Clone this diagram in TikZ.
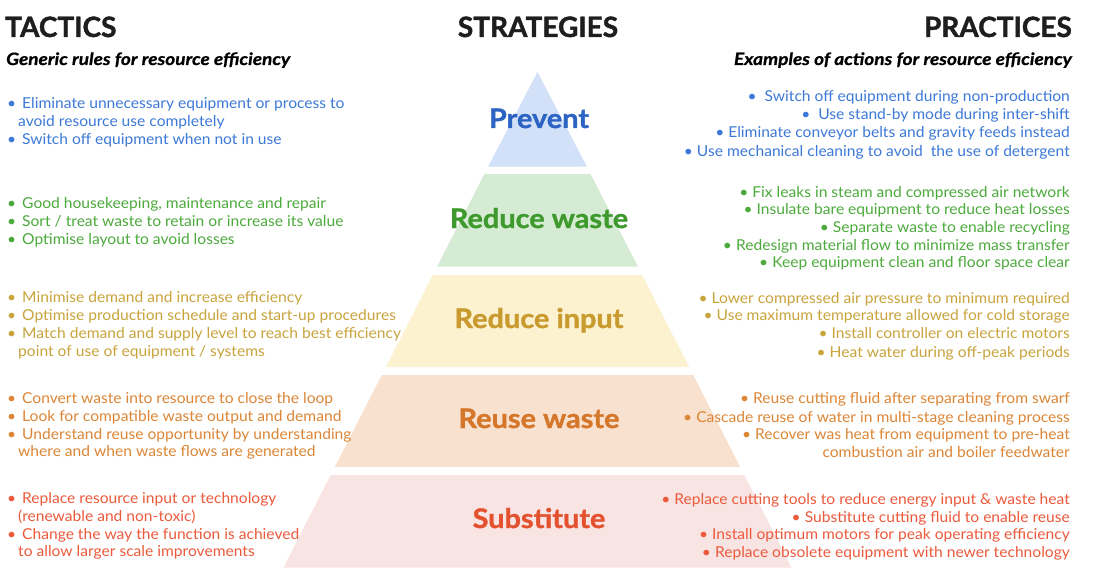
\documentclass[tikz,border=0pt]{standalone}
\usepackage{fontspec}
\setmainfont{Lato}
\newfontfamily\bodyfont{Lato}[FakeStretch=1.04]
\newfontfamily\labelfont{Lato}[FakeStretch=1.07,BoldFeatures={FakeBold=1.2}]
\newfontfamily\subfont{Lato}[FakeStretch=1.12,BoldItalicFeatures={FakeBold=0.8}]
\newfontfamily\headfont{Lato}[BoldFeatures={FakeBold=1.4}]
\definecolor{cBlueF}{HTML}{D2E1F8}
\definecolor{cGreenF}{HTML}{D6EBD3}
\definecolor{cGoldF}{HTML}{FCF2D0}
\definecolor{cOrangeF}{HTML}{F9E1CF}
\definecolor{cRedF}{HTML}{F8E4E3}
\definecolor{cBlueT}{HTML}{3D79D8}
\definecolor{cGreenT}{HTML}{4CAA3C}
\definecolor{cGoldT}{HTML}{C9A43C}
\definecolor{cOrangeT}{HTML}{DC8636}
\definecolor{cRedT}{HTML}{EC5A3C}
\definecolor{cBlueL}{HTML}{2C64C4}
\definecolor{cGreenL}{HTML}{3F9A2E}
\definecolor{cGoldL}{HTML}{C99A2E}
\definecolor{cOrangeL}{HTML}{D5772B}
\definecolor{cRedL}{HTML}{E4512F}
\definecolor{cHead}{HTML}{1E1E1E}
\begin{document}
\begin{tikzpicture}[x=1pt,y=-1pt,
  lt/.style={anchor=base west, inner sep=0pt, font=\bodyfont\fontsize{15}{18}\selectfont},
  rt/.style={anchor=base east, inner sep=0pt, font=\bodyfont\fontsize{15}{18}\selectfont},
  head/.style={inner sep=0pt, text=cHead, font=\headfont\fontsize{28}{32}\selectfont\bfseries},
  subhead/.style={inner sep=0pt, text=black, font=\subfont\fontsize{17}{20}\selectfont\bfseries\itshape},
  lbl/.style={anchor=base, inner sep=0pt, font=\labelfont\fontsize{27}{30}\selectfont\bfseries},
  bandshape/.style={draw=none}]
\fill[white] (0,0) rectangle (1096,586);
\useasboundingbox (0,0) rectangle (1096,586);
% pyramid bands
\fill[cBlueF,bandshape] (537.5,72) -- (586.8,166.5) -- (488.2,166.5) -- cycle;
\fill[cGreenF,bandshape] (484.4,174) -- (590.6,174) -- (637.8,266.5) -- (437.2,266.5) -- cycle;
\fill[cGoldF,bandshape] (432.8,275) -- (642.2,275) -- (689.2,367) -- (385.9,367) -- cycle;
\fill[cOrangeF,bandshape] (381.8,375) -- (693.2,375) -- (740.2,467) -- (334.8,467) -- cycle;
\fill[cRedF,bandshape] (330.7,475) -- (744.3,475) -- (791.5,567.5) -- (283.5,567.5) -- cycle;
% strategy labels
\node[lbl,text=cBlueL] (sPrev) at (539,128) {Prevent};
\node[lbl,text=cGreenL] (sRedW) at (539,228) {Reduce waste};
\node[lbl,text=cGoldL] (sRedI) at (539,328) {Reduce input};
\node[lbl,text=cOrangeL] (sReuse) at (539,428) {Reuse waste};
\node[lbl,text=cRedL] (sSubst) at (539,528) {Substitute};
% headers
\node[head,anchor=base west] (hTac) at (5,37) {TACTICS};
\node[head,anchor=base] (hStr) at (538,37) {STRATEGIES};
\node[head,anchor=base east] (hPra) at (1072,37) {PRACTICES};
\node[subhead,anchor=base west] (sTac) at (6,65) {Generic rules for resource efficiency};
\node[subhead,anchor=base east] (sPra) at (1072,65) {Examples of actions for resource efficiency};
% left: prevent
\node[lt,text=cBlueT] (lb1) at (7,108) {\makebox[15pt][l]{•}Eliminate unnecessary equipment or process to};
\node[lt,text=cBlueT] (lb2) at (18,126) {avoid resource use completely};
\node[lt,text=cBlueT] (lb3) at (7,144) {\makebox[15pt][l]{•}Switch off equipment when not in use};
% left: reduce waste
\node[lt,text=cGreenT] (lg1) at (7,208) {\makebox[15pt][l]{•}Good housekeeping, maintenance and repair};
\node[lt,text=cGreenT] (lg2) at (7,226) {\makebox[15pt][l]{•}Sort / treat waste to retain or increase its value};
\node[lt,text=cGreenT] (lg3) at (7,244) {\makebox[15pt][l]{•}Optimise layout to avoid losses};
% left: reduce input
\node[lt,text=cGoldT] (ly1) at (7,302) {\makebox[15pt][l]{•}Minimise demand and increase efficiency};
\node[lt,text=cGoldT] (ly2) at (7,320) {\makebox[15pt][l]{•}Optimise production schedule and start-up procedures};
\node[lt,text=cGoldT] (ly3) at (7,338) {\makebox[15pt][l]{•}Match demand and supply level to reach best efficiency};
\node[lt,text=cGoldT] (ly4) at (18,356) {point of use of equipment / systems};
% left: reuse waste
\node[lt,text=cOrangeT] (lo1) at (7,403) {\makebox[15pt][l]{•}Convert waste into resource to close the loop};
\node[lt,text=cOrangeT] (lo2) at (7,421) {\makebox[15pt][l]{•}Look for compatible waste output and demand};
\node[lt,text=cOrangeT] (lo3) at (7,439) {\makebox[15pt][l]{•}Understand reuse opportunity by understanding};
\node[lt,text=cOrangeT] (lo4) at (18,456) {where and when waste flows are generated};
% left: substitute
\node[lt,text=cRedT] (lr1) at (7,503) {\makebox[15pt][l]{•}Replace resource input or technology};
\node[lt,text=cRedT] (lr2) at (18,521) {(renewable and non-toxic)};
\node[lt,text=cRedT] (lr3) at (7,539) {\makebox[15pt][l]{•}Change the way the function is achieved};
\node[lt,text=cRedT] (lr4) at (18,556) {to allow larger scale improvements};
% right: prevent
\node[rt,text=cBlueT] (rb1) at (1070,102) {•\ \ Switch off equipment during non-production};
\node[rt,text=cBlueT] (rb2) at (1070,120) {•\ \ Use stand-by mode during inter-shift};
\node[rt,text=cBlueT] (rb3) at (1070,138) {• Eliminate conveyor belts and gravity feeds instead};
\node[rt,text=cBlueT] (rb4) at (1070,157) {• Use mechanical cleaning to avoid\ \ the use of detergent};
% right: reduce waste
\node[rt,text=cGreenT] (rg1) at (1070,197) {• Fix leaks in steam and compressed air network};
\node[rt,text=cGreenT] (rg2) at (1070,214) {• Insulate bare equipment to reduce heat losses};
\node[rt,text=cGreenT] (rg3) at (1070,232) {• Separate waste to enable recycling};
\node[rt,text=cGreenT] (rg4) at (1070,250) {• Redesign material flow to minimize mass transfer};
\node[rt,text=cGreenT] (rg5) at (1070,267) {• Keep equipment clean and floor space clear};
% right: reduce input
\node[rt,text=cGoldT] (ry1) at (1070,303) {• Lower compressed air pressure to minimum required};
\node[rt,text=cGoldT] (ry2) at (1070,320) {• Use maximum temperature allowed for cold storage};
\node[rt,text=cGoldT] (ry3) at (1070,338) {• Install controller on electric motors};
\node[rt,text=cGoldT] (ry4) at (1070,357) {• Heat water during off-peak periods};
% right: reuse waste
\node[rt,text=cOrangeT] (ro1) at (1070,403) {• Reuse cutting fluid after separating from swarf};
\node[rt,text=cOrangeT] (ro2) at (1070,422) {• Cascade reuse of water in multi-stage cleaning process};
\node[rt,text=cOrangeT] (ro3) at (1070,439) {• Recover was heat from equipment to pre-heat};
\node[rt,text=cOrangeT] (ro4) at (1070,457) {combustion air and boiler feedwater};
% right: substitute
\node[rt,text=cRedT] (rr1) at (1070,504) {• Replace cutting tools to reduce energy input \& waste heat};
\node[rt,text=cRedT] (rr2) at (1070,522) {• Substitute cutting fluid to enable reuse};
\node[rt,text=cRedT] (rr3) at (1070,539) {• Install optimum motors for peak operating efficiency};
\node[rt,text=cRedT] (rr4) at (1070,557) {• Replace obsolete equipment with newer technology};
\end{tikzpicture}
\end{document}
